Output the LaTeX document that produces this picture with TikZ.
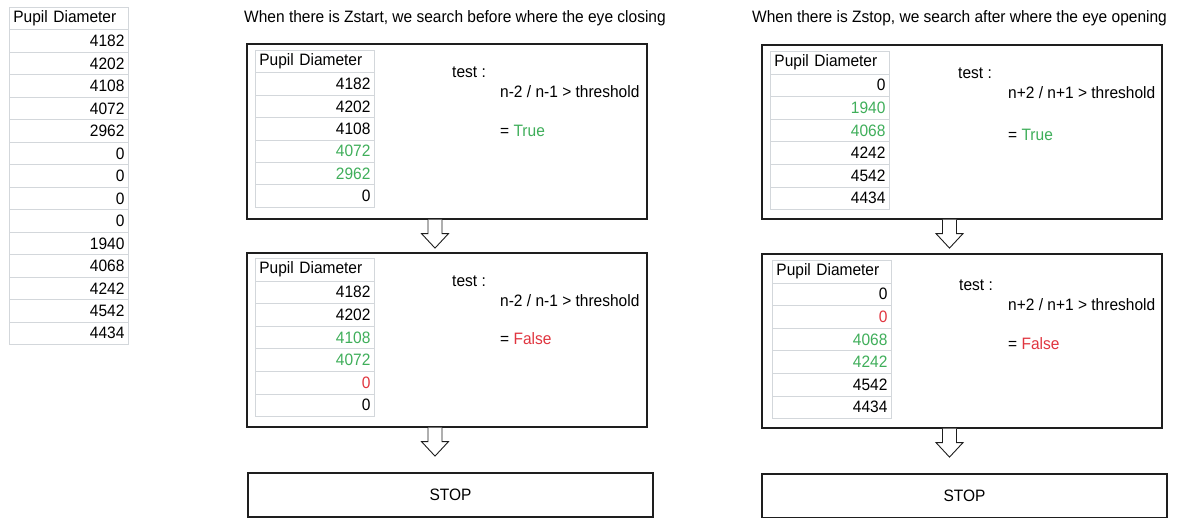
\documentclass[tikz,border=0pt]{standalone}
\usepackage{fontspec}
\setmainfont{Liberation Sans}[FakeStretch=0.94]
\usetikzlibrary{calc}
\definecolor{gridc}{HTML}{D3D7DB}
\definecolor{okgreen}{HTML}{3FAE5A}
\definecolor{badred}{HTML}{E0353F}
\definecolor{boxc}{HTML}{1E1E1E}
\tikzset{
  hdrcell/.style={anchor=north west, draw=gridc, line width=0.8pt, text width=111pt,
    inner xsep=4pt, inner ysep=0pt, align=left},
  valcell/.style={anchor=north west, draw=gridc, line width=0.8pt, text width=111pt,
    inner xsep=4pt, inner ysep=0pt, align=right},
  bigbox/.style={draw=boxc, line width=1.2pt, inner sep=0pt},
  plain/.style={anchor=west, inner sep=0pt},
  harrow/.style={draw=boxc, line width=0.9pt, fill=white, line join=miter}
}
\newcommand\pdtable[5]{%
  \node[hdrcell, minimum height=#4] (#1-0) at (#2,#3) {Pupil Diameter};
  \foreach \c/\v [count=\i] in {#5} {
    \node[valcell, minimum height=#4] (#1-\i) at ({#2},{#3+\i*#4}) {\textcolor{\c}{\v}};
  }%
}
\newcommand\hollowarrow[3]{% #1 start node anchor, #2 x shift, #3 name
  \coordinate (#3) at ($(#1)+(#2,0)$);
  \draw[harrow] (#3) ++(-7,0) -- ++(0,14) -- ++(-6.5,0) -- ++(13.5,14.5)
     -- ++(13.5,-14.5) -- ++(-6.5,0) -- ++(0,-14);
}
\begin{document}
\begin{tikzpicture}[x=1pt,y=-1pt,font=\fontsize{16.5pt}{19pt}\selectfont]
\useasboundingbox (0,0) rectangle (1178,518);

% left full table
\pdtable{L}{9}{7}{22.47}{black/4182,black/4202,black/4108,black/4072,black/2962,black/0,black/0,black/0,black/0,black/1940,black/4068,black/4242,black/4542,black/4434}

% titles
\node[plain] (t1) at (244,18) {When there is Zstart, we search before where the eye closing};
\node[plain] (t2) at (752,18) {When there is Zstop, we search after where the eye opening};

% left column boxes
\node[bigbox, minimum width=400, minimum height=175] (b1) at (447,131.5) {};
\node[bigbox, minimum width=400, minimum height=174] (b2) at (447,340) {};
\node[bigbox, minimum width=405, minimum height=44] (b3) at (450.5,495) {STOP};

% right column boxes
\node[bigbox, minimum width=400, minimum height=174] (b4) at (962,132) {};
\node[bigbox, minimum width=400, minimum height=174] (b5) at (962,341) {};
\node[bigbox, minimum width=405, minimum height=44] (b6) at (964.5,496) {STOP};

% tables inside boxes
\pdtable{A}{255}{50}{22.4}{black/4182,black/4202,black/4108,okgreen/4072,okgreen/2962,black/0}
\pdtable{B}{255}{258}{22.6}{black/4182,black/4202,okgreen/4108,okgreen/4072,badred/0,black/0}
\pdtable{C}{770}{51}{22.6}{black/0,okgreen/1940,okgreen/4068,black/4242,black/4542,black/4434}
\pdtable{D}{772}{260}{22.6}{black/0,badred/0,okgreen/4068,okgreen/4242,black/4542,black/4434}

% test texts
\node[plain] (a1) at (452,72) {test :};
\node[plain] (a2) at (500,92) {n-2 / n-1 > threshold};
\node[plain] (a3) at (500,131) {= \textcolor{okgreen}{True}};

\node[plain] (b1a) at (452,281) {test :};
\node[plain] (b1b) at (500,301) {n-2 / n-1 > threshold};
\node[plain] (b1c) at (500,339) {= \textcolor{badred}{False}};

\node[plain] (c1) at (958,73) {test :};
\node[plain] (c2) at (1008,93) {n+2 / n+1 > threshold};
\node[plain] (c3) at (1008,135) {= \textcolor{okgreen}{True}};

\node[plain] (d1) at (959,285) {test :};
\node[plain] (d2) at (1008,305) {n+2 / n+1 > threshold};
\node[plain] (d3) at (1008,344) {= \textcolor{badred}{False}};

% hollow arrows
\hollowarrow{b1.south}{-12}{p1}
\hollowarrow{b2.south}{-12}{p2}
\hollowarrow{b4.south}{-12.5}{p3}
\hollowarrow{b5.south}{-12.5}{p4}
\end{tikzpicture}
\end{document}
